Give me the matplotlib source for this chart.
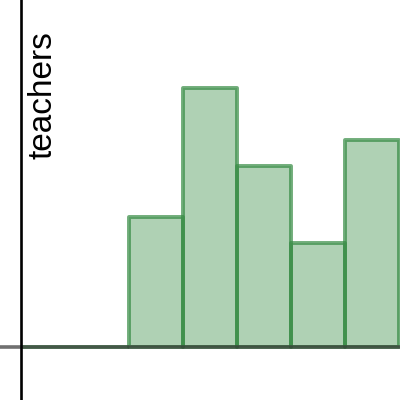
import matplotlib.pyplot as plt

# bins (left edges) and counts of teachers
bin_left = [0, 1, 2, 3, 4, 5, 6]
teachers = [0, 0, 5, 10, 7, 4, 8]
y_label = "teachers"

green = (0.22, 0.55, 0.27)

fig = plt.figure(figsize=(4, 4), dpi=100)
ax = fig.add_axes([0, 0, 1, 1])
ax.set_xlim(-0.379, 7.015)
ax.set_ylim(-2.05, 13.4)
ax.axis('off')

ax.bar(bin_left, teachers, width=1, align='edge',
       facecolor=green + (0.4,), edgecolor=green + (0.72,), lw=2.8,
       joinstyle='round', zorder=2)

# axes lines
ax.axhline(0, color=(0.2, 0.2, 0.2, 0.7), lw=2.6, zorder=3)
ax.axvline(0, color='black', lw=1.9, zorder=3)

fig.text(43 / 400, 1 - 95 / 400, y_label, rotation=90, ha='center', va='center',
         fontsize=24, family=['Liberation Sans', 'DejaVu Sans'])

fig.savefig('out.png', dpi=100)
